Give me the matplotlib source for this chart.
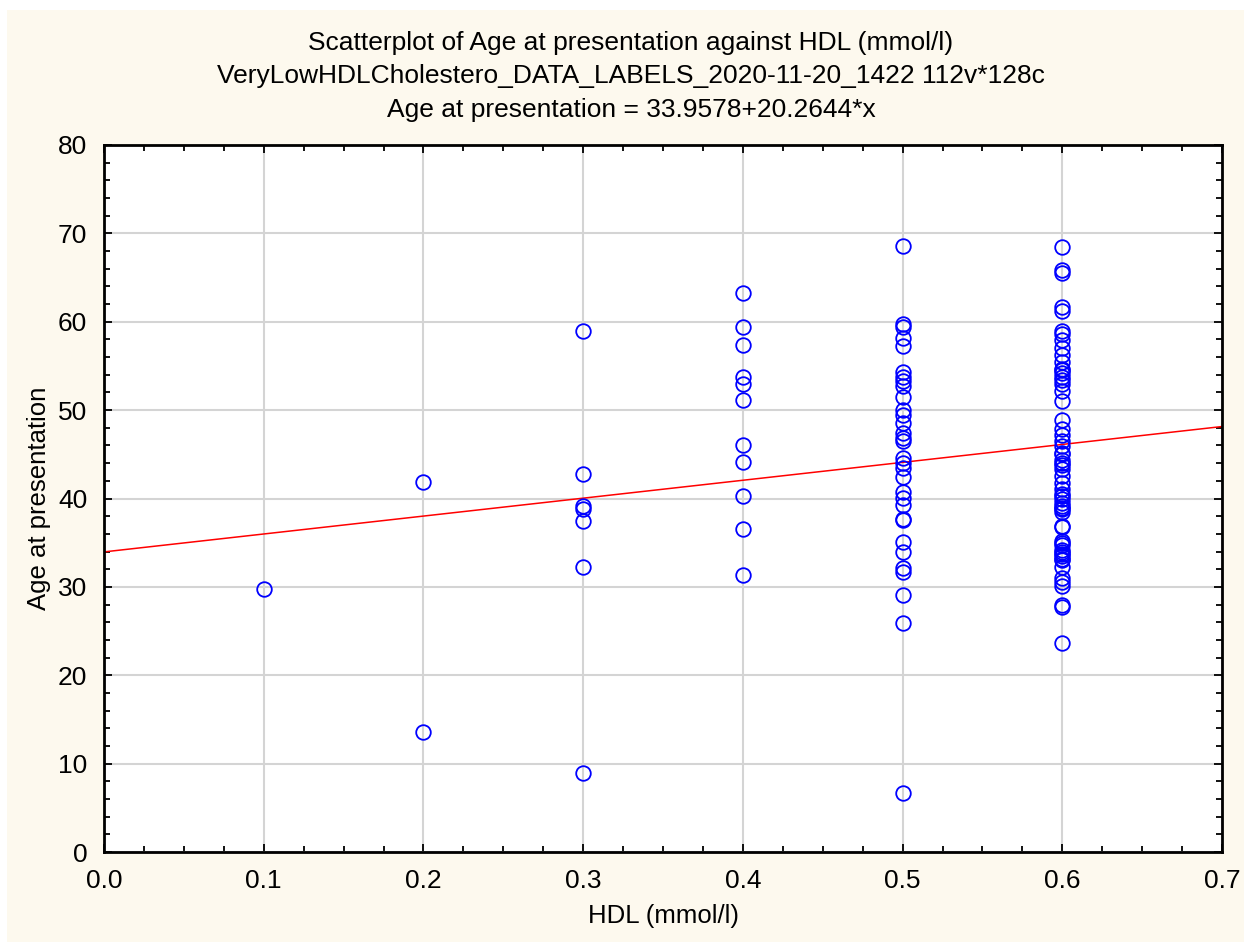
import matplotlib
matplotlib.use("Agg")
import matplotlib.pyplot as plt
from matplotlib.patches import Rectangle
from matplotlib.ticker import MultipleLocator, FormatStrFormatter
import numpy as np

plt.rcParams['font.family'] = ['Liberation Sans', 'DejaVu Sans']

# age at presentation for each HDL level
hdl_01 = [29.8]
hdl_02 = [41.9, 13.6]
hdl_03 = [58.9, 42.8, 39.2, 38.8, 37.4, 32.3, 8.9]
hdl_04 = [63.3, 59.4, 57.4, 53.7, 53.0, 51.1, 46.1, 44.1, 40.3, 36.5, 31.3]
hdl_05 = [68.6, 59.7, 59.4, 58.2, 57.3, 54.3, 53.8, 53.3, 52.7, 51.5, 50.0,
          49.5, 48.5, 47.4, 46.9, 46.5, 44.6, 44.0, 43.5, 42.4, 40.7, 40.1,
          39.3, 37.7, 37.6, 35.1, 34.0, 32.1, 31.7, 29.1, 25.9, 6.7]
hdl_06 = [68.5, 65.9, 65.5, 61.7, 61.2, 59.0, 58.6, 57.9, 57.0, 56.2, 55.4,
          54.7, 54.5, 54.2, 53.8, 53.4, 53.0, 52.2, 51.0, 48.9, 47.9, 47.2,
          46.5, 45.9, 45.2, 45.0, 44.4, 44.0, 43.8, 43.3, 42.5, 41.8, 41.1,
          40.5, 40.3, 40.0, 39.5, 39.2, 38.9, 38.8, 38.5, 36.9, 36.8, 35.2,
          35.0, 34.7, 34.2, 33.9, 33.7, 33.5, 33.2, 33.0, 32.2, 31.0, 30.5,
          30.1, 27.9, 27.7, 23.7]
hdl_levels = [0.1, 0.2, 0.3, 0.4, 0.5, 0.6]
ages_by_level = [hdl_01, hdl_02, hdl_03, hdl_04, hdl_05, hdl_06]

# fitted line: Age = intercept + slope * HDL
intercept = 33.9578
slope = 20.2644

x = np.concatenate([[lv] * len(a) for lv, a in zip(hdl_levels, ages_by_level)])
y = np.concatenate(ages_by_level)

fig = plt.figure(figsize=(12.44, 9.42), dpi=100)
fig.patch.set_facecolor('white')
# cream panel behind everything, leaving a thin white strip left and top
fig.patches.append(Rectangle((7 / 1244, 0), 1, 1 - 10 / 942, transform=fig.transFigure,
                             facecolor='#fdf9ee', edgecolor='none', zorder=-10))

ax = fig.add_axes([104 / 1244, 90 / 942, 1118 / 1244, 707 / 942])
ax.set_facecolor('white')

ax.grid(True, which='major', color='#d4d4d4', linewidth=1.5, zorder=0)
ax.set_axisbelow(True)

ax.plot(x, y, linestyle='none', marker='o', markersize=10.5, markerfacecolor='none',
        markeredgecolor='#0000ff', markeredgewidth=1.3, zorder=3)

xs = np.array([0.0, 0.7])
ax.plot(xs, intercept + slope * xs, color='#ff0000', linewidth=1.1, zorder=2)

ax.set_xlim(0, 0.7)
ax.set_ylim(0, 80)
ax.xaxis.set_major_locator(MultipleLocator(0.1))
ax.xaxis.set_minor_locator(MultipleLocator(0.025))
ax.yaxis.set_major_locator(MultipleLocator(10))
ax.yaxis.set_minor_locator(MultipleLocator(2))
ax.xaxis.set_major_formatter(FormatStrFormatter('%.1f'))

ax.tick_params(which='both', direction='in', top=True, right=True, labelsize=19,
               width=1.3, pad=12)
ax.tick_params(which='major', length=6)
ax.tick_params(which='minor', length=4)
for s in ax.spines.values():
    s.set_linewidth(2)

ax.set_xlabel('HDL (mmol/l)', fontsize=18.5, labelpad=8)
ax.set_ylabel('Age at presentation', fontsize=18.5, labelpad=5)

title_lines = ['Scatterplot of Age at presentation against HDL (mmol/l)',
               'VeryLowHDLCholestero_DATA_LABELS_2020-11-20_1422 112v*128c',
               f'Age at presentation = {intercept:.4f}+{slope:.4f}*x']
for i, line in enumerate(title_lines):
    fig.text(631 / 1244, 1 - (43 + 33.5 * i) / 942, line, ha='center', va='center',
             fontsize=19)

fig.savefig('out.png', dpi=100, facecolor=fig.get_facecolor())
